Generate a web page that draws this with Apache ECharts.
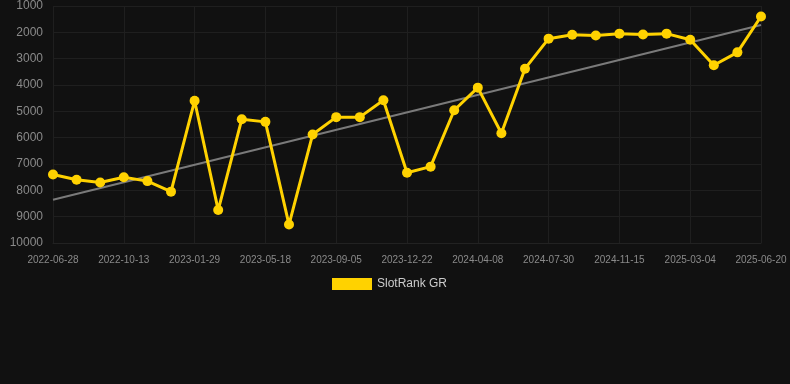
<!DOCTYPE html>
<html>
<head>
<meta charset="utf-8">
<script src="https://cdn.jsdelivr.net/npm/echarts@6/dist/echarts.min.js"></script>
<style>
  html, body { margin: 0; padding: 0; background: #111111; }
  #chart { width: 790px; height: 384px; }
</style>
</head>
<body>
<div id="chart"></div>
<script>
// dates on the x axis (one per rank sample)
var dates = [
    '2022-06-28', '2022-08-03', '2022-09-07', '2022-10-13', '2022-11-18', '2022-12-24',
    '2023-01-29', '2023-03-06', '2023-04-12', '2023-05-18', '2023-06-24', '2023-07-30',
    '2023-09-05', '2023-10-11', '2023-11-16', '2023-12-22', '2024-01-27', '2024-03-03',
    '2024-04-08', '2024-05-15', '2024-06-22', '2024-07-30', '2024-09-04', '2024-10-10',
    '2024-11-15', '2024-12-21', '2025-01-27', '2025-03-04', '2025-04-09', '2025-05-15',
    '2025-06-20'
];
// SlotRank GR values
var rankValues = [
    7400, 7600, 7700, 7500, 7650, 8050,
    4600, 8750, 5300, 5400, 9300, 5880,
    5220, 5220, 4580, 7330, 7100, 4960,
    4100, 5830, 3380, 2240, 2090, 2120,
    2050, 2080, 2050, 2280, 3250, 2760,
    1400
];
// trend line end points
var trendStart = 8360;
var trendEnd = 1720;

function renderSlotRank() {
    var dom = document.getElementById('chart');
    var myChart = echarts.init(dom);

    var option = {
        backgroundColor: '#111111',
        animation: false,
        textStyle: {
            fontFamily: 'Liberation Sans, Arial, sans-serif'
        },
        grid: {
            top: 6,
            bottom: 141,
            left: 53,
            right: 29,
        },
        legend: {
            data: [{ name: 'SlotRank GR', icon: 'rect' }],
            top: 273,
            left: 327,
            itemWidth: 40,
            itemHeight: 12,
            itemGap: 10,
            textStyle: {
                color: '#cccccc',
                fontSize: 12,
            },
        },
        xAxis: {
            type: 'category',
            data: dates,
            boundaryGap: false,
            axisLine: {
                show: true,
                lineStyle: { color: '#222222' }
            },
            axisTick: { show: false },
            axisLabel: {
                interval: 2,
                color: '#8a8a8a',
                fontSize: 10,
                margin: 12,
            },
            splitLine: {
                show: true,
                interval: 2,
                lineStyle: { color: '#1f1f1f' }
            },
        },
        yAxis: {
            type: 'value',
            inverse: true,
            min: 1000,
            max: 10000,
            interval: 1000,
            axisLine: { show: false },
            axisTick: { show: false },
            axisLabel: {
                color: '#8a8a8a',
                fontSize: 12,
                margin: 10,
                formatter: function(v) { return String(v); }
            },
            splitLine: {
                lineStyle: { color: '#1f1f1f' }
            },
        },
        series: [{
            name: 'trend',
            type: 'line',
            data: [[dates[0], trendStart], [dates[dates.length - 1], trendEnd]],
            symbol: 'none',
            silent: true,
            lineStyle: { color: '#7a7a7a', width: 2 },
            z: 1,
        }, {
            name: 'SlotRank GR',
            type: 'line',
            data: rankValues,
            symbol: 'circle',
            symbolSize: 10,
            itemStyle: { color: '#ffd200' },
            lineStyle: { color: '#ffd200', width: 3 },
            z: 2,
        }]
    };

    myChart.setOption(option);
}
renderSlotRank();
</script>
</body>
</html>
